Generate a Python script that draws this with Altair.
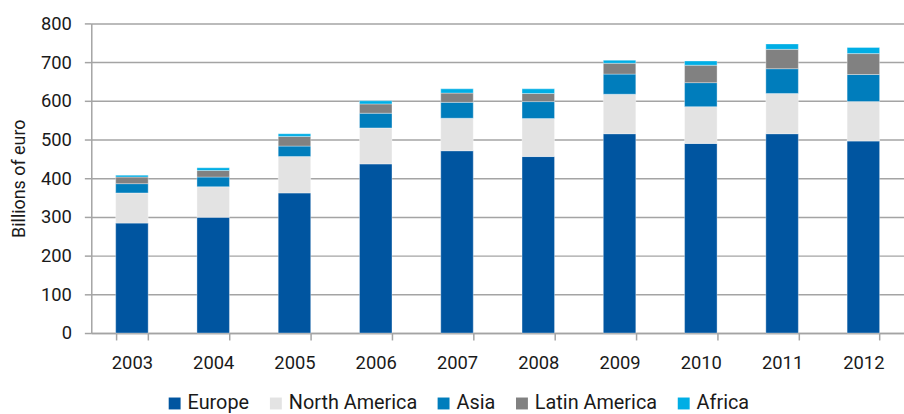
import altair as alt
import pandas as pd

# Annual totals by region, billions of euro
years = ["2003", "2004", "2005", "2006", "2007", "2008", "2009", "2010", "2011", "2012"]
regions = ["Europe", "North America", "Asia", "Latin America", "Africa"]
colors = ["#0055A0", "#E3E3E3", "#007DBC", "#818181", "#00AEE5"]

europe = [284, 299, 362, 437, 471, 456, 515, 490, 515, 496]
north_america = [78, 79, 94, 93, 84, 98, 102, 95, 104, 102]
asia = [24, 25, 27, 38, 41, 44, 52, 62, 64, 70]
latin_america = [17, 17, 25, 24, 24, 21, 28, 45, 50, 54]
africa = [5, 7, 7, 8, 11, 12, 8, 11, 14, 16]

series = [europe, north_america, asia, latin_america, africa]
rows = []
for idx, (region, values) in enumerate(zip(regions, series)):
    for year, v in zip(years, values):
        rows.append({"year": year, "region": region, "value": v, "idx": idx})
df = pd.DataFrame(rows)

FONT = "Roboto"
TEXT = "#1a1a1a"
GRID = "#a4a4a4"

chart = (
    alt.Chart(df)
    .mark_bar(stroke="white", strokeWidth=1, strokeOpacity=0.35)
    .encode(
        x=alt.X(
            "year:N",
            title=None,
            sort=years,
            scale=alt.Scale(paddingInner=0.6, paddingOuter=0.3),
            axis=alt.Axis(
                labelAngle=0,
                labelFontSize=18.5,
                labelPadding=14,
                tickSize=7,
                tickBand="extent",
                domainColor=GRID,
                tickColor=GRID,
                domainWidth=1.5,
                tickWidth=1.5,
                grid=False,
            ),
        ),
        y=alt.Y(
            "value:Q",
            stack="zero",
            title="Billions of euro",
            scale=alt.Scale(domain=[0, 800], nice=False),
            axis=alt.Axis(
                values=list(range(0, 801, 100)),
                labelFontSize=18.5,
                labelPadding=13,
                tickSize=7,
                domainColor=GRID,
                tickColor=GRID,
                gridColor=GRID,
                gridWidth=1.5,
                domainWidth=1.5,
                tickWidth=1.5,
                titleFontSize=18,
                titleFontWeight="normal",
                titlePadding=12,
            ),
        ),
        color=alt.Color(
            "region:N",
            scale=alt.Scale(domain=regions, range=colors),
            legend=alt.Legend(
                title=None,
                orient="none",
                direction="horizontal",
                legendX=74,
                legendY=373,
                symbolType="square",
                symbolSize=144,
                symbolStrokeWidth=0,
                labelFontSize=20,
                labelOffset=3,
                columnPadding=16,
                gridAlign="none",
                padding=0,
            ),
        ),
        order=alt.Order("idx:Q", sort="ascending"),
    )
    .properties(
        width=819,
        height=312,
        autosize=alt.AutoSizeParams(type="none"),
        padding={"left": 92, "top": 22, "right": 0, "bottom": 80},
    )
    .configure(font=FONT)
    .configure_view(stroke=None)
    .configure_axis(labelColor=TEXT, titleColor=TEXT, labelFont=FONT, titleFont=FONT)
    .configure_legend(labelColor=TEXT, labelFont=FONT)
)

chart.save("out.html", embed_options={"renderer": "svg", "actions": False})
